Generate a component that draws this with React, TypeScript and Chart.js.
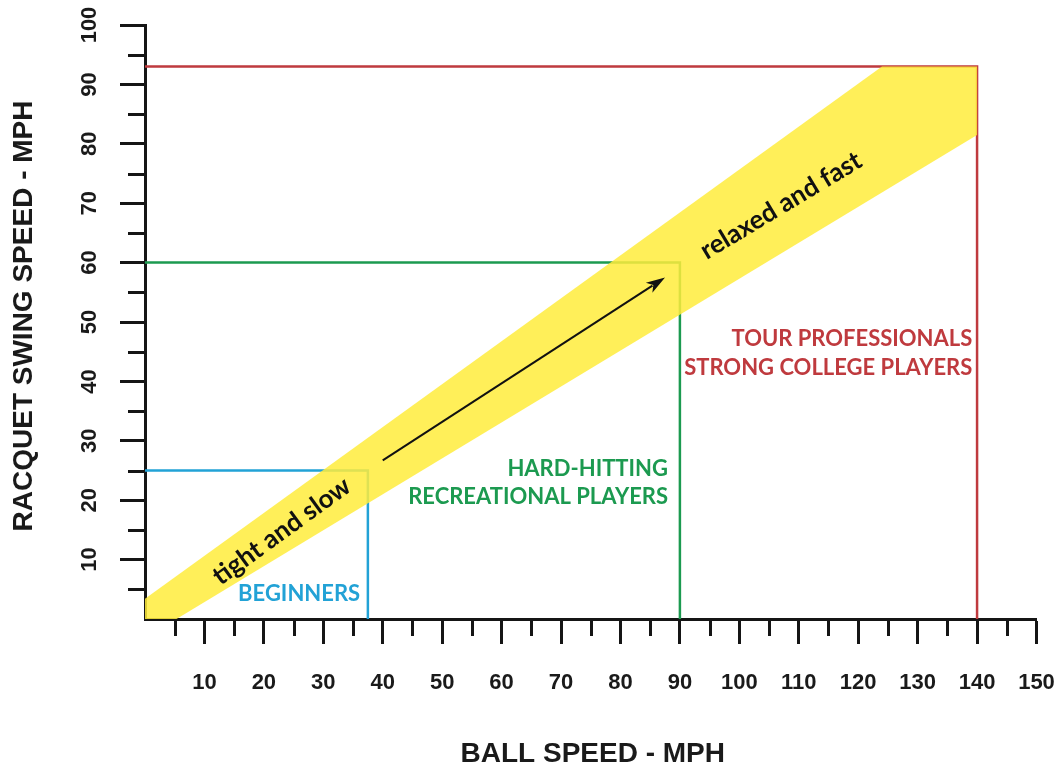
import React, { useEffect, useRef } from 'react';
import { Chart, registerables } from 'chart.js';

Chart.register(...registerables);

// ---- Axis ranges and tick labels ----
const X_MIN = 0;
const X_MAX = 150;
const Y_MIN = 0;
const Y_MAX = 100;
const xTickLabels = [10, 20, 30, 40, 50, 60, 70, 80, 90, 100, 110, 120, 130, 140, 150];
const yTickLabels = [10, 20, 30, 40, 50, 60, 70, 80, 90, 100];
const xTitle = 'BALL SPEED - MPH';
const yTitle = 'RACQUET SWING SPEED - MPH';

// ---- Player-level boxes: ball speed limit (x), swing speed limit (y) ----
const boxNames = ['BEGINNERS', 'RECREATIONAL', 'TOUR'];
const boxBallSpeed = [37.5, 90, 140];
const boxSwingSpeed = [25, 60, 93];

// ---- Yellow band (polygon, ball speed vs swing speed) ----
const bandX = [0, 5.3, 140, 140, 124, 0];
const bandY = [0, 0, 81.5, 93, 93, 3.4];

// ---- Arrow along band ----
const arrowX = [40, 87.5];
const arrowY = [26.7, 57.5];

// ---- Text labels ----
const beginnersLines = ['BEGINNERS'];
const recreationalLines = ['HARD-HITTING', 'RECREATIONAL PLAYERS'];
const tourLines = ['TOUR PROFESSIONALS', 'STRONG COLLEGE PLAYERS'];
const bandLabelTexts = ['tight and slow', 'relaxed and fast'];
const bandLabelX = [23.0, 107.0];
const bandLabelY = [14.8, 69.6];
const bandLabelAngle = [-36, -31];

// ---- Styles ----
const AXIS_COLOR = '#151515';
const BLUE = '#22A2D6';
const GREEN = '#1C9A50';
const RED = '#BF3A3E';
const BAND_FILL = 'rgba(255,236,60,0.85)';
const AXIS_FONT = '"Liberation Sans", Arial, sans-serif';
const TEXT_FONT = 'Lato, "Open Sans", sans-serif';

const boxColors = [BLUE, GREEN, RED];

const isMajorX = (v: number) => xTickLabels.includes(v);
const isMajorY = (v: number) => yTickLabels.includes(v);

function drawTextLines(
  ctx: CanvasRenderingContext2D,
  lines: string[],
  x: number,
  y: number,
  gap: number,
  color: string,
  font: string
) {
  ctx.save();
  ctx.fillStyle = color;
  ctx.font = font;
  ctx.textAlign = 'right';
  ctx.textBaseline = 'middle';
  lines.forEach((l, i) => ctx.fillText(l, x, y + i * gap));
  ctx.restore();
}

const overlayPlugin = {
  id: 'overlay',
  afterDatasetsDraw(chart: any) {
    const ctx: CanvasRenderingContext2D = chart.ctx;
    const xs = chart.scales.x;
    const ys = chart.scales.y;

    // Arrow
    const x1 = xs.getPixelForValue(arrowX[0]);
    const y1 = ys.getPixelForValue(arrowY[0]);
    const x2 = xs.getPixelForValue(arrowX[1]);
    const y2 = ys.getPixelForValue(arrowY[1]);
    const ang = Math.atan2(y2 - y1, x2 - x1);
    const headLen = 19;
    const headHalf = 6;
    ctx.save();
    ctx.strokeStyle = '#111';
    ctx.fillStyle = '#111';
    ctx.lineWidth = 2;
    ctx.beginPath();
    ctx.moveTo(x1, y1);
    ctx.lineTo(x2 - Math.cos(ang) * (headLen - 4), y2 - Math.sin(ang) * (headLen - 4));
    ctx.stroke();
    ctx.beginPath();
    ctx.moveTo(x2, y2);
    const bx = x2 - Math.cos(ang) * headLen;
    const by = y2 - Math.sin(ang) * headLen;
    ctx.lineTo(bx + Math.sin(ang) * headHalf, by - Math.cos(ang) * headHalf);
    ctx.lineTo(x2 - Math.cos(ang) * (headLen - 5), y2 - Math.sin(ang) * (headLen - 5));
    ctx.lineTo(bx - Math.sin(ang) * headHalf, by + Math.cos(ang) * headHalf);
    ctx.closePath();
    ctx.fill();
    ctx.restore();

    // Band labels
    bandLabelTexts.forEach((t, i) => {
      ctx.save();
      ctx.translate(xs.getPixelForValue(bandLabelX[i]), ys.getPixelForValue(bandLabelY[i]));
      ctx.rotate((bandLabelAngle[i] * Math.PI) / 180);
      ctx.font = `bold 26px ${TEXT_FONT}`;
      ctx.fillStyle = '#111';
      ctx.textAlign = 'center';
      ctx.textBaseline = 'middle';
      ctx.fillText(t, 0, 0);
      ctx.restore();
    });

    // Box labels
    const f = `bold 22px ${TEXT_FONT}`;
    drawTextLines(ctx, beginnersLines, xs.getPixelForValue(36.2), ys.getPixelForValue(4.2), 28, BLUE, f);
    drawTextLines(ctx, recreationalLines, xs.getPixelForValue(88.0), ys.getPixelForValue(25.3), 28, GREEN, f);
    drawTextLines(ctx, tourLines, xs.getPixelForValue(139.2), ys.getPixelForValue(47.1), 29, RED, f);
  },
  afterDraw(chart: any) {
    const ctx: CanvasRenderingContext2D = chart.ctx;
    const xs = chart.scales.x;
    const ys = chart.scales.y;
    const minorLen = 17;
    ctx.save();
    ctx.strokeStyle = AXIS_COLOR;
    ctx.lineWidth = 3;
    xs.ticks.forEach((t: any) => {
      if (t.value > X_MIN && !isMajorX(t.value)) {
        const px = Math.round(xs.getPixelForValue(t.value)) + 0.5;
        ctx.beginPath();
        ctx.moveTo(px, xs.top);
        ctx.lineTo(px, xs.top + minorLen);
        ctx.stroke();
      }
    });
    ys.ticks.forEach((t: any) => {
      if (t.value > Y_MIN && !isMajorY(t.value)) {
        const py = Math.round(ys.getPixelForValue(t.value)) + 0.5;
        ctx.beginPath();
        ctx.moveTo(ys.right, py);
        ctx.lineTo(ys.right - minorLen, py);
        ctx.stroke();
      }
    });
    ctx.restore();

    // Rotated y tick labels
    ctx.save();
    ctx.fillStyle = '#1a1a1a';
    ctx.font = `bold 22px ${AXIS_FONT}`;
    ctx.textAlign = 'center';
    ctx.textBaseline = 'middle';
    yTickLabels.forEach((v) => {
      ctx.save();
      ctx.translate(90, ys.getPixelForValue(v));
      ctx.rotate(-Math.PI / 2);
      ctx.fillText(String(v), 0, 0);
      ctx.restore();
    });
    ctx.restore();

    // Axis titles
    ctx.save();
    ctx.fillStyle = '#1a1a1a';
    ctx.font = `bold 28px ${AXIS_FONT}`;
    ctx.textAlign = 'center';
    ctx.textBaseline = 'middle';
    ctx.fillText(xTitle, (xs.left + xs.right) / 2 + 2, 754);
    ctx.translate(24, 316);
    ctx.rotate(-Math.PI / 2);
    ctx.fillText(yTitle, 0, 0);
    ctx.restore();
  },
};

export default function App() {
  const ref = useRef<HTMLCanvasElement>(null);
  useEffect(() => {
    const canvas = ref.current;
    if (!canvas) return;

    const boxDatasets = boxNames.map((name, i) => ({
      label: name,
      data: [
        { x: X_MIN, y: boxSwingSpeed[i] },
        { x: boxBallSpeed[i], y: boxSwingSpeed[i] },
        { x: boxBallSpeed[i], y: Y_MIN },
      ],
      showLine: true,
      borderColor: boxColors[i],
      borderWidth: 2.5,
      pointRadius: 0,
      fill: false,
      tension: 0,
    }));

    const tickFont = { family: AXIS_FONT, size: 22, weight: 'bold' as const };

    const chart = new Chart(canvas, {
      type: 'scatter',
      data: {
        datasets: [
          {
            label: 'band',
            data: bandX.map((x, i) => ({ x, y: bandY[i] })),
            showLine: true,
            fill: 'shape',
            backgroundColor: BAND_FILL,
            borderColor: 'rgba(0,0,0,0)',
            borderWidth: 0,
            pointRadius: 0,
            tension: 0,
          } as any,
          ...boxDatasets,
        ],
      },
      options: {
        animation: false,
        responsive: false,
        events: [],
        layout: { padding: { top: 25, right: 26.5, bottom: 0, left: 0 } },
        plugins: { legend: { display: false }, tooltip: { enabled: false } },
        scales: {
          x: {
            type: 'linear',
            min: X_MIN,
            max: X_MAX,
            afterFit: (s: any) => {
              s.height = 148;
              s.paddingLeft = 0;
              s.paddingRight = 0;
              s.paddingTop = 0;
              s.paddingBottom = 0;
            },
            border: { display: true, color: AXIS_COLOR, width: 3 },
            grid: {
              display: true,
              drawOnChartArea: false,
              drawTicks: true,
              tickLength: 25,
              tickWidth: 3,
              tickColor: (c: any) => (c.tick && isMajorX(c.tick.value) ? AXIS_COLOR : 'rgba(0,0,0,0)'),
            },
            ticks: {
              stepSize: 5,
              autoSkip: false,
              minRotation: 0,
              maxRotation: 0,
              padding: 26,
              color: '#1a1a1a',
              font: tickFont,
              callback: (v: any) => (isMajorX(Number(v)) ? String(v) : ''),
            },
          },
          y: {
            type: 'linear',
            min: Y_MIN,
            max: Y_MAX,
            afterFit: (s: any) => {
              s.width = 145;
              s.paddingLeft = 0;
              s.paddingRight = 0;
              s.paddingTop = 0;
              s.paddingBottom = 0;
            },
            border: { display: true, color: AXIS_COLOR, width: 3 },
            grid: {
              display: true,
              drawOnChartArea: false,
              drawTicks: true,
              tickLength: 25,
              tickWidth: 3,
              tickColor: (c: any) => (c.tick && isMajorY(c.tick.value) ? AXIS_COLOR : 'rgba(0,0,0,0)'),
            },
            ticks: {
              stepSize: 5,
              autoSkip: false,
              padding: 12,
              color: 'rgba(0,0,0,0)',
              font: tickFont,
              callback: (v: any) => (isMajorY(Number(v)) ? String(v) : ''),
            },
          },
        },
      } as any,
      plugins: [overlayPlugin],
    });
    return () => chart.destroy();
  }, []);

  return (
    <div style={{ position: 'fixed', left: 0, top: 0, width: 1063, height: 767, background: '#fff' }}>
      <canvas ref={ref} width={1063} height={767} style={{ display: 'block' }} />
    </div>
  );
}
